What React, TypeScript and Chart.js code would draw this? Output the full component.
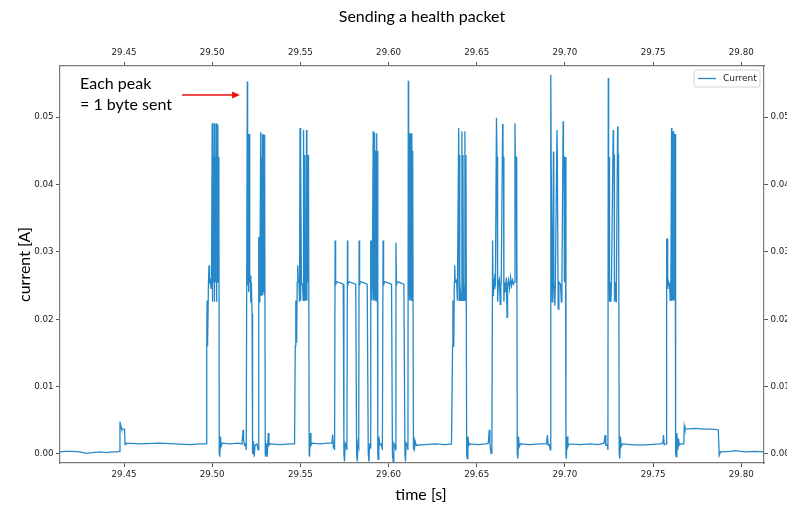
import React, { useEffect, useRef } from "react";
import { Chart, registerables } from "chart.js";

Chart.register(...registerables);

// ---- data (time [s], current [A]) ----
const PRE_IDLE: [number, number][] = [
  [29.4137, 0.0003], [29.4171, 0.0004], [29.4205, 0.0004], [29.4251, 0.0003], [29.4285, 0.0001],
  [29.4319, 0.0002], [29.4364, 0.0003], [29.4398, 0.0002], [29.4432, 0.0003], [29.4466, 0.0003],
  [29.4474, 0.0004], [29.4477, 0.0048], [29.4483, 0.0040], [29.4486, 0.0037], [29.4503, 0.0037],
  [29.4506, 0.0014], [29.4511, 0.0016], [29.4591, 0.0015], [29.4704, 0.0016], [29.4789, 0.0015],
  [29.4874, 0.0014], [29.4931, 0.0015], [29.4965, 0.0015],
];

const BURST_1: [number, number][] = [
  [29.4969, 0.016], [29.4971, 0.0228], [29.4972, 0.016], [29.4974, 0.0228], [29.4976, 0.0165],
  [29.4979, 0.0255], [29.4982, 0.028], [29.4985, 0.0255], [29.499, 0.0258], [29.4993, 0.0245],
  [29.4996, 0.0255], [29.5, 0.0491], [29.5002, 0.0226], [29.5006, 0.0441], [29.5008, 0.0255],
  [29.5011, 0.0491], [29.5013, 0.0226], [29.5017, 0.0441], [29.5019, 0.0255], [29.5022, 0.0491],
  [29.5024, 0.0226], [29.5027, 0.0441], [29.5029, 0.0255], [29.5032, 0.0489], [29.5035, 0.0255],
  [29.5038, 0.0441], [29.504, 0.0], [29.5043, -0.0004], [29.5047, 0.0026], [29.505, 0.0011],
  [29.5056, 0.0016], [29.5101, 0.0015], [29.5146, 0.0016], [29.5169, 0.0015], [29.5175, 0.0036],
  [29.5178, 0.0021], [29.5183, 0.0013], [29.5189, 0.0015], [29.5193, 0.0006],
];

const BURST_2: [number, number][] = [
  [29.5199, 0.0553], [29.5201, 0.025], [29.5205, 0.0475], [29.5207, 0.024], [29.521, 0.0475],
  [29.5213, 0.0255], [29.5216, 0.0265], [29.5219, 0.0225], [29.5222, 0.0255], [29.5226, 0.0209],
  [29.5229, 0.0], [29.5234, 0.0019], [29.5238, -0.0004], [29.5243, 0.0013], [29.5254, 0.0015],
  [29.526, 0.0006], [29.5264, 0.0322], [29.5267, 0.0226], [29.5269, 0.0322], [29.5271, 0.0226],
  [29.5275, 0.0478], [29.5277, 0.0236], [29.528, 0.044], [29.5282, 0.024], [29.5285, 0.0475],
  [29.5287, 0.0236], [29.529, 0.044], [29.5292, 0.024], [29.5294, 0.0474], [29.5296, 0.0236],
  [29.5299, 0.044], [29.5301, 0.0], [29.5303, -0.0004], [29.5307, 0.0016], [29.5312, -0.0004],
  [29.5318, 0.0031], [29.5322, 0.0013], [29.5328, 0.0015], [29.5385, 0.0014], [29.5441, 0.0015],
  [29.5467, 0.0015],
];

const BURST_3: [number, number][] = [
  [29.5471, 0.016], [29.5473, 0.0228], [29.5475, 0.016], [29.5477, 0.0228], [29.5479, 0.0165],
  [29.5482, 0.0255], [29.5485, 0.028], [29.5488, 0.0255], [29.5492, 0.0258], [29.5495, 0.0226],
  [29.5498, 0.0484], [29.55, 0.0228], [29.5503, 0.0444], [29.5506, 0.0255], [29.5512, 0.025],
  [29.5516, 0.0228], [29.5518, 0.0481], [29.5521, 0.0228], [29.5524, 0.0444], [29.5526, 0.0255],
  [29.5531, 0.0228], [29.5535, 0.0481], [29.5537, 0.0228], [29.554, 0.0444], [29.5543, 0.0255],
  [29.5546, 0.0444], [29.555, 0.0], [29.5552, -0.0004], [29.5556, 0.0031], [29.556, 0.0013],
  [29.5566, 0.0016], [29.5611, 0.0015], [29.5657, 0.0016], [29.5679, 0.0016], [29.5683, 0.0029],
  [29.5687, 0.0011], [29.5691, 0.0014],
];

const SHORT_BYTES_A: [number, number][] = [
  [29.5694, 0.0006], [29.5697, 0.0317], [29.57, 0.025], [29.5704, 0.0256], [29.5725, 0.0254],
  [29.5743, 0.0252], [29.5747, 0.0], [29.575, -0.0011], [29.5755, 0.0016], [29.576, 0.0013],
  [29.5764, 0.0006], [29.5767, 0.0317], [29.5769, 0.025], [29.5773, 0.0256], [29.5793, 0.0254],
  [29.5814, 0.0252], [29.5819, 0.0], [29.5823, -0.0011], [29.5827, 0.0016], [29.5831, 0.0011],
  [29.5833, 0.0317], [29.5836, 0.025], [29.5839, 0.0256], [29.5861, 0.0254], [29.5879, 0.0252],
  [29.5885, 0.0], [29.5889, -0.0011], [29.5893, 0.0016], [29.5897, 0.0009],
];

const BURST_4: [number, number][] = [
  [29.5898, 0.0317], [29.59, 0.0228], [29.5903, 0.0317], [29.5905, 0.0228], [29.5908, 0.0255],
  [29.5913, 0.0479], [29.5915, 0.0228], [29.5918, 0.045], [29.592, 0.023], [29.5922, 0.0477],
  [29.5925, 0.0228], [29.5927, 0.045], [29.593, 0.023], [29.5932, 0.0476], [29.5934, 0.0228],
  [29.5936, 0.045], [29.5939, 0.0], [29.5941, -0.0008], [29.5945, 0.0026], [29.5951, 0.0013],
  [29.596, 0.0015], [29.5965, 0.0006],
];

const SHORT_BYTES_B: [number, number][] = [
  [29.5969, 0.0317], [29.5972, 0.025], [29.5976, 0.0256], [29.5997, 0.0254], [29.6017, 0.0252],
  [29.6022, 0.0], [29.6026, -0.0011], [29.603, 0.0016], [29.6036, 0.0013], [29.604, 0.0006],
  [29.6042, 0.0314], [29.6045, 0.025], [29.6048, 0.0256], [29.6067, 0.0254], [29.6087, 0.0252],
  [29.6093, 0.0], [29.6096, -0.0011], [29.61, 0.0016], [29.6107, 0.0013], [29.611, 0.0006],
];

const BURST_5: [number, number][] = [
  [29.6112, 0.0554], [29.6114, 0.0235], [29.6116, 0.0476], [29.6119, 0.0228], [29.6122, 0.0476],
  [29.6124, 0.023], [29.6127, 0.045], [29.6129, 0.0228], [29.6132, 0.0476], [29.6134, 0.0228],
  [29.6137, 0.045], [29.6141, 0.0008], [29.6143, 0.0026], [29.6146, 0.0004], [29.6151, 0.0019],
  [29.6157, 0.0013], [29.6207, 0.0014], [29.6263, 0.0015], [29.632, 0.0014], [29.6357, 0.0015],
];

const BURST_6: [number, number][] = [
  [29.6363, 0.016], [29.6365, 0.0228], [29.6366, 0.016], [29.6369, 0.0228], [29.6371, 0.0165],
  [29.6373, 0.0255], [29.6375, 0.028], [29.6378, 0.0255], [29.6386, 0.0258], [29.639, 0.0228],
  [29.6398, 0.0484], [29.64, 0.0228], [29.6403, 0.0444], [29.6405, 0.0255], [29.6411, 0.0228],
  [29.6416, 0.0479], [29.6418, 0.0228], [29.6422, 0.0444], [29.6424, 0.0255], [29.6429, 0.0228],
  [29.6433, 0.0479], [29.6435, 0.0228], [29.6439, 0.0444], [29.6443, 0.0], [29.6446, -0.0007],
  [29.645, 0.0026], [29.6456, 0.0013], [29.6462, 0.0015], [29.6507, 0.0014], [29.6553, 0.0015],
  [29.6566, 0.0016], [29.6571, 0.0036], [29.6575, 0.0016], [29.6581, 0.0001], [29.6586, 0.0011],
];

const BURST_7: [number, number][] = [
  [29.659, 0.0317], [29.6593, 0.0235], [29.6595, 0.026], [29.6599, 0.0245], [29.6602, 0.026],
  [29.6606, 0.0255], [29.6612, 0.0499], [29.6615, 0.0441], [29.6617, 0.0441], [29.662, 0.0226],
  [29.6623, 0.0255], [29.6629, 0.026], [29.6633, 0.0222], [29.6637, 0.025], [29.6639, 0.0255],
  [29.6647, 0.049], [29.6649, 0.0441], [29.6652, 0.0441], [29.6654, 0.0226], [29.6658, 0.0255],
  [29.6663, 0.024], [29.6668, 0.0262], [29.6672, 0.0203], [29.6675, 0.025], [29.668, 0.0258],
  [29.6686, 0.0245], [29.6692, 0.0262], [29.6697, 0.025], [29.6703, 0.0258], [29.6708, 0.0252],
  [29.6712, 0.0255], [29.6717, 0.0491], [29.6719, 0.0441], [29.6723, 0.0441], [29.6725, 0.0255],
  [29.6728, 0.0441], [29.673, 0.0], [29.6733, -0.0007], [29.6737, 0.0026], [29.6741, 0.0011],
  [29.6748, 0.0015], [29.6802, 0.0014], [29.6859, 0.0015], [29.6896, 0.0015], [29.6901, 0.0028],
  [29.6905, 0.0013], [29.6912, 0.0014], [29.6917, 0.0006],
];

const BURST_8: [number, number][] = [
  [29.692, 0.0563], [29.6922, 0.0449], [29.6925, 0.0449], [29.6928, 0.0226], [29.6931, 0.0255],
  [29.6935, 0.0449], [29.6937, 0.0255], [29.6943, 0.022], [29.6946, 0.0255], [29.6955, 0.0481],
  [29.6957, 0.0441], [29.696, 0.0441], [29.6962, 0.0215], [29.6966, 0.0255], [29.6975, 0.0252],
  [29.698, 0.0226], [29.6983, 0.0255], [29.699, 0.0494], [29.6992, 0.0441], [29.6995, 0.0441],
  [29.6997, 0.0255], [29.7002, 0.0441], [29.7006, 0.0], [29.7008, -0.0007], [29.7013, 0.0026],
  [29.7017, 0.0011], [29.7023, 0.0015], [29.7086, 0.0014], [29.7142, 0.0015], [29.7188, 0.0014],
  [29.7222, 0.0016], [29.7228, 0.0028], [29.7232, 0.0013], [29.7242, 0.0014], [29.7244, 0.0006],
];

const BURST_9: [number, number][] = [
  [29.7246, 0.0558], [29.7248, 0.0245], [29.7251, 0.0441], [29.7253, 0.0226], [29.7257, 0.0255],
  [29.7261, 0.0226], [29.7264, 0.0255], [29.7274, 0.0481], [29.7276, 0.0444], [29.7279, 0.0444],
  [29.7281, 0.0226], [29.7285, 0.0255], [29.729, 0.0226], [29.7292, 0.0255], [29.7299, 0.0486],
  [29.7301, 0.0444], [29.7304, 0.0444], [29.7308, 0.0], [29.7311, -0.0007], [29.7315, 0.0026],
  [29.7319, 0.0011], [29.7326, 0.0015], [29.7369, 0.0014], [29.7426, 0.0013], [29.7482, 0.0014],
  [29.7539, 0.0015], [29.7555, 0.0016], [29.7559, 0.0028], [29.7563, 0.0014], [29.7575, 0.0015],
];

const BURST_10: [number, number][] = [
  [29.7577, 0.032], [29.758, 0.0255], [29.7582, 0.032], [29.7584, 0.0245], [29.7587, 0.0255],
  [29.759, 0.025], [29.7593, 0.0255], [29.7597, 0.0228], [29.7601, 0.0255], [29.7605, 0.0484],
  [29.7607, 0.0228], [29.761, 0.0479], [29.7612, 0.0228], [29.7615, 0.0479], [29.7617, 0.0228],
  [29.762, 0.0475], [29.7622, 0.0228], [29.7625, 0.0475], [29.7628, 0.0], [29.7631, -0.0004],
  [29.7635, 0.0031], [29.764, 0.0006], [29.7644, 0.0023], [29.7649, 0.0013], [29.7658, 0.0015],
  [29.7674, 0.0015],
];

const POST_IDLE: [number, number][] = [
  [29.7677, 0.0042], [29.7681, 0.0037], [29.7737, 0.0038], [29.7794, 0.0037], [29.7834, 0.0037],
  [29.787, 0.0036], [29.7875, -0.0002], [29.7882, 0.0003], [29.7936, 0.0004], [29.7964, 0.0005],
  [29.8021, 0.0003], [29.8078, 0.0004], [29.8129, 0.0003],
];

const SEGMENTS = [
  PRE_IDLE, BURST_1, BURST_2, BURST_3, SHORT_BYTES_A, BURST_4, SHORT_BYTES_B,
  BURST_5, BURST_6, BURST_7, BURST_8, BURST_9, BURST_10, POST_IDLE,
];

const X_TICKS = [29.45, 29.5, 29.55, 29.6, 29.65, 29.7, 29.75, 29.8];
const Y_TICKS = [0, 0.01, 0.02, 0.03, 0.04, 0.05];
const X_RANGE = [29.4137, 29.8129];
const Y_RANGE = [-0.00134, 0.0576];

const TITLE = "Sending a health packet";
const X_LABEL = "time [s]";
const Y_LABEL = "current [A]";
const SERIES_NAME = "Current";
const NOTE_LINES = ["Each peak", "= 1 byte sent"];
const NOTE_POS = [29.4251, 0.0542, 0.0511]; // x, baseline line 1, baseline line 2
const ARROW_FROM = [29.4829, 0.0533];
const ARROW_TO = [29.5158, 0.0533];

const LINE_COLOR = "rgb(38,136,200)";
const TEXT_FONT = "Lato, 'Open Sans', sans-serif";
const TICK_FONT = "'DejaVu Sans'";

const overlayPlugin = {
  id: "overlay",
  afterDraw(chart: any) {
    const { ctx, chartArea, scales } = chart;
    const xs = scales.x;
    const ys = scales.y;
    ctx.save();
    ctx.fillStyle = "#000";
    ctx.textBaseline = "alphabetic";
    ctx.font = `16px ${TEXT_FONT}`;
    ctx.textAlign = "center";
    ctx.fillText(TITLE, 422, 22);
    ctx.fillText(X_LABEL, 421, 500);
    ctx.save();
    ctx.translate(30, (chartArea.top + chartArea.bottom) / 2);
    ctx.rotate(-Math.PI / 2);
    ctx.fillText(Y_LABEL, 0, 0);
    ctx.restore();

    // annotation text
    ctx.textAlign = "left";
    ctx.font = `16px ${TEXT_FONT}`;
    const nx = xs.getPixelForValue(NOTE_POS[0]);
    ctx.fillText(NOTE_LINES[0], nx, ys.getPixelForValue(NOTE_POS[1]));
    ctx.fillText(NOTE_LINES[1], nx, ys.getPixelForValue(NOTE_POS[2]));

    // arrow
    const ax0 = xs.getPixelForValue(ARROW_FROM[0]);
    const ay0 = ys.getPixelForValue(ARROW_FROM[1]);
    const ax1 = xs.getPixelForValue(ARROW_TO[0]);
    const ay1 = ys.getPixelForValue(ARROW_TO[1]);
    ctx.strokeStyle = "#f01010";
    ctx.fillStyle = "#f01010";
    ctx.lineWidth = 1.6;
    ctx.beginPath();
    ctx.moveTo(ax0, ay0);
    ctx.lineTo(ax1 - 6, ay1);
    ctx.stroke();
    ctx.beginPath();
    ctx.moveTo(ax1, ay1);
    ctx.lineTo(ax1 - 8, ay1 - 3.5);
    ctx.lineTo(ax1 - 8, ay1 + 3.5);
    ctx.closePath();
    ctx.fill();

    // legend
    const lw = 66;
    const lh = 17;
    const lx = chartArea.right - 4 - lw;
    const ly = chartArea.top + 4;
    ctx.fillStyle = "rgba(255,255,255,0.85)";
    ctx.strokeStyle = "#d5d5d5";
    ctx.lineWidth = 1;
    ctx.beginPath();
    const r = 2;
    ctx.moveTo(lx + r, ly);
    ctx.lineTo(lx + lw - r, ly);
    ctx.quadraticCurveTo(lx + lw, ly, lx + lw, ly + r);
    ctx.lineTo(lx + lw, ly + lh - r);
    ctx.quadraticCurveTo(lx + lw, ly + lh, lx + lw - r, ly + lh);
    ctx.lineTo(lx + r, ly + lh);
    ctx.quadraticCurveTo(lx, ly + lh, lx, ly + lh - r);
    ctx.lineTo(lx, ly + r);
    ctx.quadraticCurveTo(lx, ly, lx + r, ly);
    ctx.closePath();
    ctx.fill();
    ctx.stroke();
    ctx.strokeStyle = LINE_COLOR;
    ctx.lineWidth = 1.3;
    ctx.beginPath();
    ctx.moveTo(lx + 4, ly + lh / 2);
    ctx.lineTo(lx + 22, ly + lh / 2);
    ctx.stroke();
    ctx.fillStyle = "#222";
    ctx.font = `9px ${TICK_FONT}`;
    ctx.textBaseline = "middle";
    ctx.textAlign = "left";
    ctx.fillText(SERIES_NAME, lx + 29, ly + lh / 2 + 0.5);
    ctx.restore();
  },
};

function axisCommon(ticksList: number[]) {
  return {
    type: "linear" as const,
    afterBuildTicks: (scale: any) => {
      scale.ticks = ticksList.map((v) => ({ value: v }));
    },
    grid: {
      drawOnChartArea: false,
      drawTicks: true,
      tickLength: 4,
      color: "#555",
      lineWidth: 1,
    },
    border: { display: true, color: "#7a7a7a", width: 1.2 },
    ticks: {
      font: { family: TICK_FONT, size: 8.7 },
      color: "#222",
      padding: 2.5,
      maxRotation: 0,
      autoSkip: false,
      callback: (v: any) => Number(v).toFixed(2),
    },
  };
}

export default function App() {
  const ref = useRef<HTMLCanvasElement | null>(null);
  useEffect(() => {
    if (!ref.current) return;
    const points = SEGMENTS.flat().map(([t, a]) => ({ x: t, y: a }));
    const chart = new Chart(ref.current, {
      type: "line",
      data: {
        datasets: [
          {
            label: SERIES_NAME,
            data: points,
            borderColor: LINE_COLOR,
            borderWidth: 1.3,
            pointRadius: 0,
            tension: 0,
            fill: false,
            xAxisID: "x",
            yAxisID: "y",
          },
        ],
      },
      options: {
        animation: false,
        responsive: false,
        devicePixelRatio: 1,
        events: [],
        layout: { padding: 0 },
        plugins: {
          legend: { display: false },
          title: { display: false },
          tooltip: { enabled: false },
        },
        scales: {
          x: {
            ...axisCommon(X_TICKS),
            position: "bottom",
            min: X_RANGE[0],
            max: X_RANGE[1],
            afterFit: (s: any) => { s.height = 43; },
          },
          x2: {
            ...axisCommon(X_TICKS),
            position: "top",
            min: X_RANGE[0],
            max: X_RANGE[1],
            ticks: { ...axisCommon(X_TICKS).ticks, padding: 4 },
            afterFit: (s: any) => { s.height = 66; },
          },
          y: {
            ...axisCommon(Y_TICKS),
            position: "left",
            min: Y_RANGE[0],
            max: Y_RANGE[1],
            afterFit: (s: any) => { s.width = 60; },
          },
          y2: {
            ...axisCommon(Y_TICKS),
            position: "right",
            min: Y_RANGE[0],
            max: Y_RANGE[1],
            afterFit: (s: any) => { s.width = 23; },
          },
        },
      } as any,
      plugins: [overlayPlugin],
    });
    return () => chart.destroy();
  }, []);
  return (
    <div style={{ position: "absolute", left: 0, top: 0, width: 787, height: 506, background: "#fff" }}>
      <canvas ref={ref} width={787} height={506} style={{ display: "block" }} />
    </div>
  );
}
